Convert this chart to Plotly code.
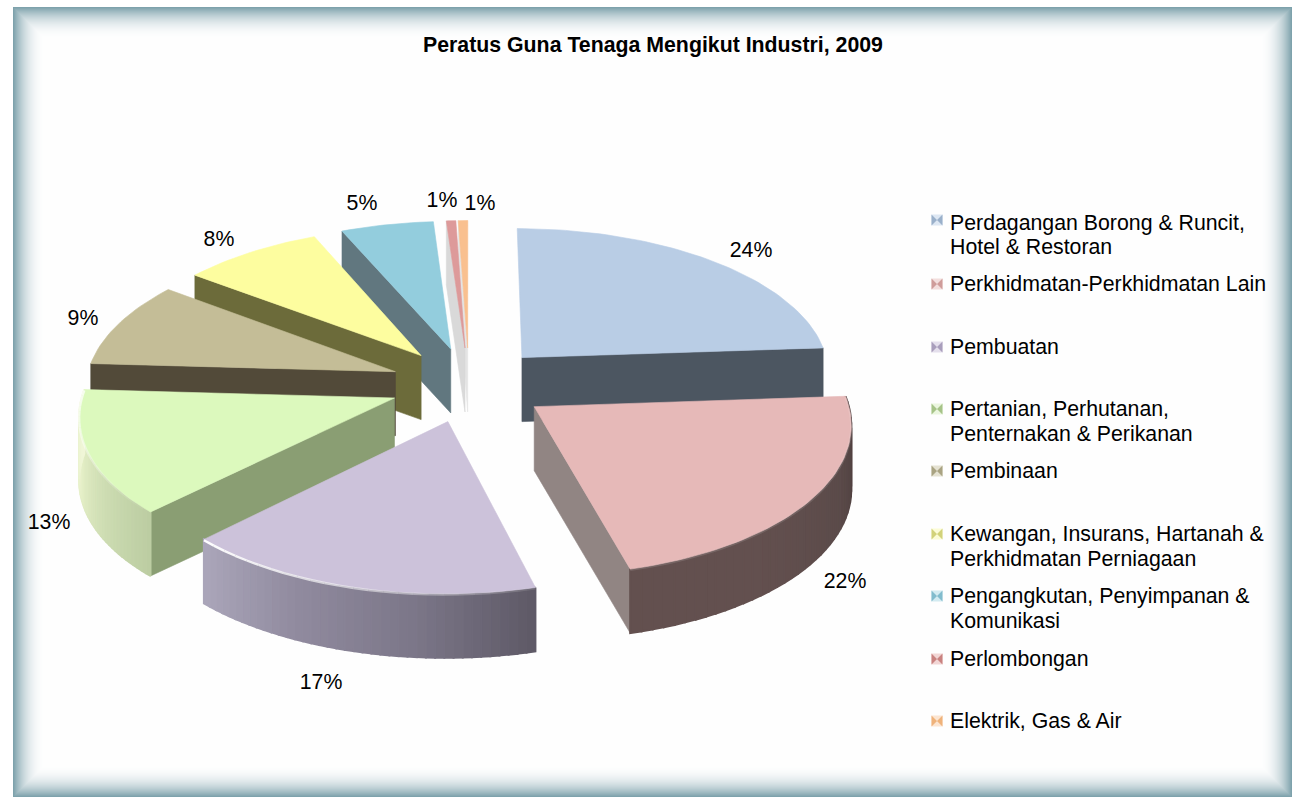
import math
import plotly.graph_objects as go

title = "Peratus Guna Tenaga Mengikut Industri, 2009"
categories = ["Perdagangan Borong & Runcit,<br>Hotel & Restoran", "Perkhidmatan-Perkhidmatan Lain",
              "Pembuatan", "Pertanian, Perhutanan,<br>Penternakan & Perikanan", "Pembinaan",
              "Kewangan, Insurans, Hartanah &<br>Perkhidmatan Perniagaan",
              "Pengangkutan, Penyimpanan &<br>Komunikasi", "Perlombongan", "Elektrik, Gas & Air"]
values = [23.9, 22.0, 16.6, 13.4, 9.4, 8.2, 5.4, 0.55, 0.55]

top_colors = ["#b9cde5", "#e6b9b8", "#ccc2da", "#dcf9bd", "#c4bd97", "#fdfd9f", "#93cddd", "#dd9a9a", "#f9c08f"]
wall_colors = ["#4c5661", "#918583", None, "#8a9e73", "#524a39", "#6c6b3a", "#61777f", "#d9d9d9", "#e4e4e4"]
wall_edge = ["end", "end", None, "start", "start", "start", "start", "start", "start"]
arc_stops = {1: ["#473838", "#5b4b4a", "#63504f", "#64514f"],
             2: ["#5e5966", "#7c7789", "#918b9f", "#aca7bb"],
             3: ["#bccda2", "#cfdeb4", "#e6f0c8", "#f1f7d8"]}
rim_slices = [1, 2, 3]
marker_light = ["#dde7f3", "#f3dedd", "#e4dfec", "#ebf6df", "#e5e2d2", "#fcfcd6", "#d3ebf1", "#f2d6d5", "#fce5d1"]
marker_dark = ["#9ab0ca", "#cf9c9a", "#a99ebc", "#a6c388", "#a9a382", "#d2d27a", "#82bccd", "#c98280", "#efb27a"]
label_pos = [(751, 250), (845, 581), (321, 682), (49, 522), (83, 318), (219, 239), (362, 203), (442, 200), (480, 203)]
legend_y = [(223, 247), (284,), (347,), (409, 434), (471,), (534, 559), (596, 621), (659,), (721,)]
marker_y = [220, 284, 347, 409, 471, 534, 596, 659, 721]

CX, CY, A, B, K, EXPL, DEPTH = 469, 384.5, 310, 147, 0.10, 0.255, 64
FONT = "Liberation Sans, Arial, sans-serif"
TEXT_DY = 1.5


def proj(X, Y, drop=0):
    w = 1 + K * Y
    return CX + A * X / w, CY - B * Y / w + drop


def hex_rgb(h):
    return [int(h[i:i + 2], 16) for i in (1, 3, 5)]


def mix(stops, t):
    t = max(0, min(1, t)) * (len(stops) - 1)
    i = min(int(t), len(stops) - 2)
    a, b = hex_rgb(stops[i]), hex_rgb(stops[i + 1])
    f = t - i
    return "rgb(%d,%d,%d)" % tuple(a[k] + (b[k] - a[k]) * f for k in range(3))


fig = go.Figure()


def poly(xs, ys, color, name=None, lw=0.6):
    fig.add_trace(go.Scatter(x=xs + xs[:1], y=ys + ys[:1], mode="lines", fill="toself", fillcolor=color,
                             line=dict(color=color, width=lw), showlegend=False,
                             hoverinfo="text" if name else "skip", text=name, hoveron="fills"))


total = sum(values)
starts = [sum(values[:i]) / total * 2 * math.pi for i in range(len(values))]
ends = [sum(values[:i + 1]) / total * 2 * math.pi for i in range(len(values))]


def rim(ox, oy, th, drop=0):
    return proj(ox + math.sin(th), oy + math.cos(th), drop)


def draw(i):
    a, b = starts[i], ends[i]
    mid = (a + b) / 2
    ox, oy = EXPL * math.sin(mid), EXPL * math.cos(mid)
    ap = proj(ox, oy)
    if wall_edge[i]:
        th = b if wall_edge[i] == "end" else a
        p0, p1 = rim(ox, oy, th), rim(ox, oy, th, DEPTH)
        ap2 = proj(ox, oy, DEPTH)
        poly([ap[0], p0[0], p1[0], ap2[0]], [ap[1], p0[1], p1[1], ap2[1]], wall_colors[i])
    if i in arc_stops:
        n = 40
        for k in range(n):
            t0, t1 = a + (b - a) * k / n, a + (b - a) * (k + 1) / n
            q0, q1 = rim(ox, oy, t0), rim(ox, oy, t1)
            q2, q3 = rim(ox, oy, t1, DEPTH), rim(ox, oy, t0, DEPTH)
            poly([q0[0], q1[0], q2[0], q3[0]], [q0[1], q1[1], q2[1], q3[1]],
                 mix(arc_stops[i], (k + .5) / n), lw=2)
    n = max(6, int((b - a) * 40))
    pts = [rim(ox, oy, a + (b - a) * k / n) for k in range(n + 1)]
    poly([ap[0]] + [p[0] for p in pts], [ap[1]] + [p[1] for p in pts], top_colors[i],
         categories[i].replace("<br>", " "))
    if i in rim_slices:
        m = 24
        for k in range(m):
            f = (k + .5) / m
            alpha = 0.75 * f if i == 3 else (0.9 * f + 0.1 if i == 2 else 0.12)
            t0, t1 = a + (b - a) * k / m, a + (b - a) * (k + 1) / m
            q0, q1 = rim(ox, oy, t0, 0.8), rim(ox, oy, t1, 0.8)
            fig.add_trace(go.Scatter(x=[q0[0], q1[0]], y=[q0[1], q1[1]], mode="lines",
                                     line=dict(color="rgba(255,255,255,%.2f)" % alpha, width=2.4),
                                     showlegend=False, hoverinfo="skip"))


for i in [8, 7, 6, 5, 4, 3, 2, 0, 1]:
    draw(i)

# data labels
fig.add_trace(go.Scatter(x=[p[0] for p in label_pos], y=[p[1] + TEXT_DY for p in label_pos], mode="text",
                         text=["%d%%" % round(v) for v in values], textposition="middle center",
                         textfont=dict(family=FONT, size=21.3, color="#000000"), showlegend=False, hoverinfo="skip"))

# legend
for i, name in enumerate(categories):
    fig.add_trace(go.Scatter(x=[937], y=[marker_y[i]], mode="markers",
                             marker=dict(symbol="square", size=11, color=marker_light[i], line=dict(width=0)),
                             showlegend=False, hoverinfo="skip"))
    fig.add_trace(go.Scatter(x=[937], y=[marker_y[i]], mode="markers",
                             marker=dict(symbol="bowtie", size=11, color=marker_dark[i], line=dict(width=0)),
                             showlegend=False, hoverinfo="skip"))
    fig.add_trace(go.Scatter(x=[950] * len(legend_y[i]), y=[v + TEXT_DY for v in legend_y[i]], mode="text",
                             text=name.split("<br>"), textposition="middle right",
                             textfont=dict(family=FONT, size=21.3, color="#000000"), showlegend=False, hoverinfo="skip"))

# frame: nested rectangles fading from the teal rim to white
shapes = []
STEPS = 34
edge = hex_rgb("#7ea2ac")
for s in range(STEPS):
    f = (1 - s / STEPS) ** 2.4
    col = "rgb(%d,%d,%d)" % tuple(255 + (c - 255) * f for c in edge)
    shapes.append(dict(type="rect", xref="x", yref="y", x0=13 + s, y0=7 + s, x1=1292 - s, y1=797 - s,
                       fillcolor=col, line=dict(width=0), layer="below"))

fig.update_layout(
    width=1292, height=797, margin=dict(l=0, r=0, t=0, b=0), paper_bgcolor="#ffffff", plot_bgcolor="#ffffff",
    showlegend=False, shapes=shapes,
    xaxis=dict(range=[0, 1292], visible=False, fixedrange=True),
    yaxis=dict(range=[797, 0], visible=False, fixedrange=True),
    annotations=[dict(text="<b>%s</b>" % title, x=652.5, y=45, xref="x", yref="y", showarrow=False,
                      font=dict(family=FONT, size=21.3, color="#000000"), xanchor="center", yanchor="middle")],
)
fig.write_html("out.html", config=dict(displayModeBar=False),
               post_script="document.body.style.margin='0';document.body.style.overflow='hidden';")
